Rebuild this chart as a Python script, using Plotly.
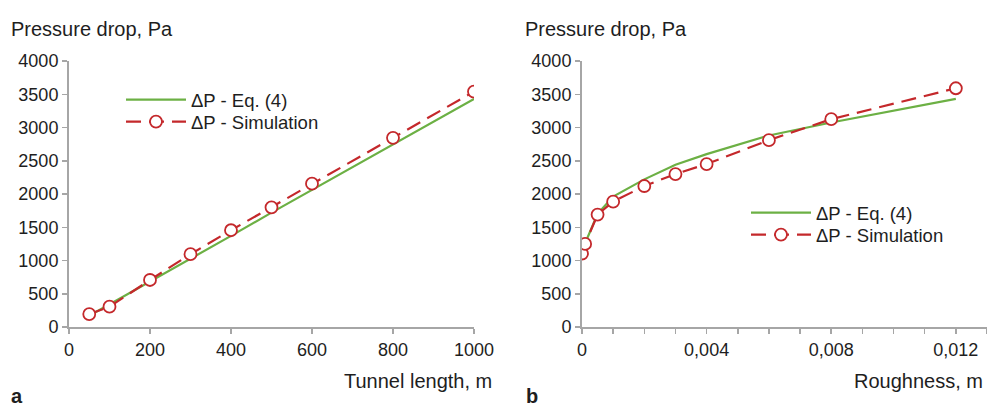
import plotly.graph_objects as go

# ---- data ----
tunnel_length = [50, 100, 200, 300, 400, 500, 600, 800, 1000]
dp_eq_length = [170, 340, 690, 1030, 1370, 1720, 2060, 2750, 3430]
dp_sim_length = [195, 305, 707, 1095, 1455, 1800, 2155, 2845, 3540]

roughness_eq = [0.0001, 0.0005, 0.001, 0.002, 0.003, 0.004, 0.006, 0.008, 0.012]
dp_eq_rough = [1260, 1700, 1960, 2220, 2440, 2600, 2880, 3075, 3430]
roughness_sim = [0, 0.0001, 0.0005, 0.001, 0.002, 0.003, 0.004, 0.006, 0.008, 0.012]
dp_sim_rough = [1105, 1250, 1690, 1885, 2120, 2300, 2450, 2810, 3125, 3590]

y_ticks = [0, 500, 1000, 1500, 2000, 2500, 3000, 3500, 4000]
x1_ticks = [0, 200, 400, 600, 800, 1000]
x2_ticks = [0, 0.004, 0.008, 0.012]
x2_ticklabels = ["0", "0,004", "0,008", "0,012"]

name_eq = "ΔP - Eq. (4)"
name_sim = "ΔP - Simulation"

GREEN = "#6cb044"
RED = "#c4282b"
AXIS = "#a6a6a6"
TXT = "#1e1e1e"
FONT = "Liberation Sans, Arial, sans-serif"

W, H = 987, 408
def px_x(p):
    return p / W
def px_y(p):
    return 1 - p / H

fig = go.Figure()

sim_marker = dict(symbol="circle", size=12, color="white", line=dict(color=RED, width=1.8))

fig.add_trace(go.Scatter(x=tunnel_length, y=dp_eq_length, name=name_eq, mode="lines",
                         line=dict(color=GREEN, width=2.2), xaxis="x", yaxis="y", legend="legend"))
fig.add_trace(go.Scatter(x=tunnel_length, y=dp_sim_length, name=name_sim, mode="lines+markers",
                         line=dict(color=RED, width=2.2, dash="15px,8px"), marker=sim_marker,
                         xaxis="x", yaxis="y", legend="legend2"))
fig.add_trace(go.Scatter(x=roughness_eq, y=dp_eq_rough, name=name_eq, mode="lines",
                         line=dict(color=GREEN, width=2.2), xaxis="x2", yaxis="y2", legend="legend3"))
fig.add_trace(go.Scatter(x=roughness_sim, y=dp_sim_rough, name=name_sim, mode="lines+markers",
                         line=dict(color=RED, width=2.2, dash="15px,8px"), marker=sim_marker,
                         xaxis="x2", yaxis="y2", legend="legend4"))

axis_common = dict(showgrid=False, zeroline=False, showline=True, linecolor=AXIS, linewidth=2,
                   ticks="outside", ticklen=5, tickcolor=AXIS, tickwidth=1.5, automargin=False,
                   tickfont=dict(family=FONT, size=18, color=TXT), fixedrange=True)

ydom = [px_y(327), px_y(61)]

def leg(xp, yp):
    return dict(x=px_x(xp), y=px_y(yp), xanchor="left", yanchor="middle",
                bgcolor="rgba(0,0,0,0)", font=dict(family=FONT, size=18.5, color=TXT),
                itemwidth=60, borderwidth=0)

fig.update_layout(
    template="none",
    width=W, height=H,
    margin=dict(l=0, r=0, t=0, b=0, autoexpand=False),
    paper_bgcolor="white", plot_bgcolor="white",
    font=dict(family=FONT, color=TXT),
    hovermode=False,
    xaxis=dict(domain=[px_x(69), px_x(474)], range=[0, 1000], tickvals=x1_ticks,
               anchor="y", **axis_common),
    yaxis=dict(domain=ydom, range=[0, 4000], tickvals=y_ticks, anchor="x", **axis_common),
    xaxis2=dict(domain=[px_x(582), 1.0], range=[0, 0.013], tickvals=x2_ticks,
                ticktext=x2_ticklabels, anchor="y2",
                minor=dict(dtick=0.001, tick0=0, ticks="outside", ticklen=5, tickcolor=AXIS, tickwidth=1.5),
                **axis_common),
    yaxis2=dict(domain=ydom, range=[0, 4000], tickvals=y_ticks, anchor="x2", **axis_common),
    legend=leg(121, 100),
    legend2=leg(121, 122),
    legend3=leg(746, 213),
    legend4=leg(746, 235),
    showlegend=True,
)

def ann(text, x, y, xanchor="left", size=20, bold=False):
    fig.add_annotation(text=f"<b>{text}</b>" if bold else text,
                       x=px_x(x), y=px_y(y), xref="paper", yref="paper",
                       xanchor=xanchor, yanchor="middle", showarrow=False,
                       font=dict(family=FONT, size=size, color=TXT))

ann("Pressure drop, Pa", 9, 29)
ann("Pressure drop, Pa", 523, 29)
ann("Tunnel length, m", 494, 381, xanchor="right")
ann("Roughness, m", 985, 381, xanchor="right")
ann("a", 9, 396, bold=True, size=20)
ann("b", 524, 396, bold=True, size=20)

# remove the default page margin so the figure fills the 987x408 window exactly
fig.write_html("out.html",
               config={"displayModeBar": False, "staticPlot": True},
               post_script="document.body.style.margin='0';document.body.style.overflow='hidden';")
